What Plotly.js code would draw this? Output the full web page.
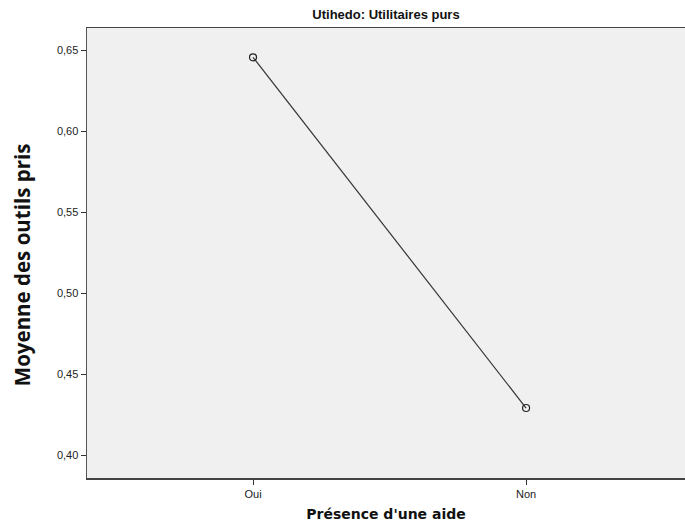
<!DOCTYPE html>
<html><head><meta charset="utf-8">
<script src="https://cdn.plot.ly/plotly-3.0.1.min.js"></script>
<style>body{margin:0;background:#fff}#c{width:685px;height:528px}</style>
</head><body><div id="c"></div>
<script>
const categories = ["Oui", "Non"];
const means = [0.6455, 0.429];
const yTicks = [0.40, 0.45, 0.50, 0.55, 0.60, 0.65];
const yTickLabels = ["0,40", "0,45", "0,50", "0,55", "0,60", "0,65"];

const trace = {
  x: [0, 1], y: means, type: 'scatter', mode: 'lines+markers',
  line: {color: '#333', width: 1.2},
  marker: {symbol: 'circle-open', size: 7, color: '#222', line: {width: 1.2}},
  hoverinfo: 'skip'
};
const layout = {
  width: 685, height: 528,
  margin: {l: 87, r: 0, t: 28, b: 50},
  paper_bgcolor: '#fff', plot_bgcolor: '#f0f0f0',
  showlegend: false,
  title: {text: 'Utihedo: Utilitaires purs', x: 0.5, xanchor: 'center', xref: 'paper', y: 0.973, yanchor: 'middle',
    font: {family: 'Liberation Sans Narrow, Arial Narrow, Liberation Sans', size: 13, color: '#111', weight: 'bold'}},
  xaxis: {
    range: [-0.608, 1.582], tickvals: [0, 1], ticktext: categories,
    showgrid: false, zeroline: false, showline: true, linecolor: '#444', linewidth: 1.5, mirror: true,
    ticks: 'outside', ticklen: 5, tickcolor: '#333', tickwidth: 1,
    tickfont: {family: 'Liberation Sans, Arial', size: 11, color: '#222'},
    title: {text: "Présence d'une aide", standoff: 10, font: {family: 'DejaVu Sans, Verdana', size: 14, color: '#111', weight: 'bold'}}
  },
  yaxis: {
    range: [0.3858, 0.6636], tickvals: yTicks, ticktext: yTickLabels,
    showgrid: false, zeroline: false, showline: true, linecolor: '#555', linewidth: 1.5, mirror: false,
    ticks: 'outside', ticklen: 5, tickcolor: '#333', tickwidth: 1,
    tickfont: {family: 'Liberation Sans, Arial', size: 11, color: '#222'}
  },
  annotations: [{
    text: 'Moyenne des outils pris', textangle: -90, showarrow: false,
    xref: 'paper', yref: 'paper', x: 0, y: 0.473, xanchor: 'center', yanchor: 'middle', xshift: -65,
    font: {family: 'Open Sans, Noto Sans', size: 20.5, color: '#111', weight: 'bold'}
  }]
};
Plotly.newPlot('c', [trace], layout, {displayModeBar: false, staticPlot: true});
</script></body></html>
